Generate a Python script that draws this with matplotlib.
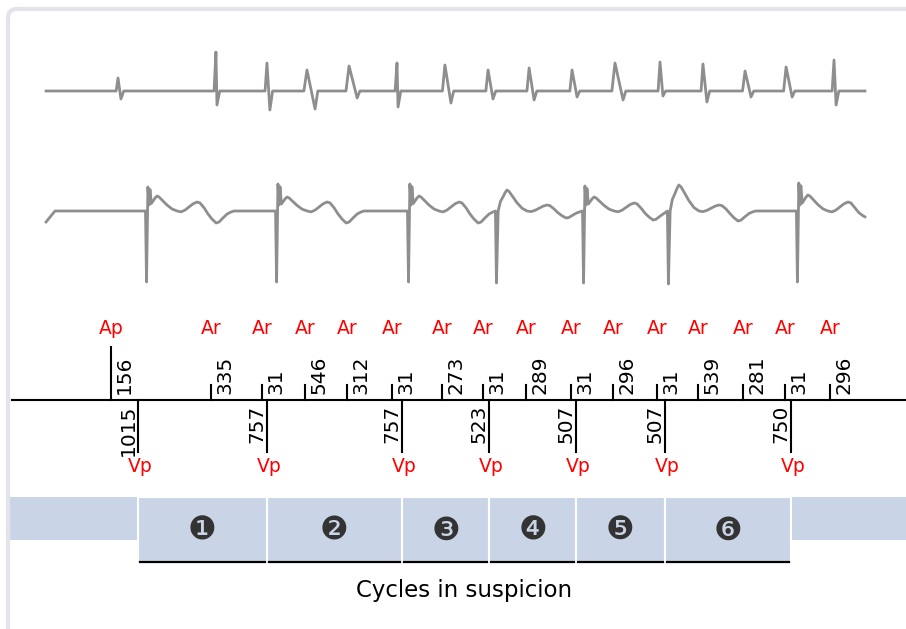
import numpy as np
import matplotlib.pyplot as plt
from matplotlib.patches import Rectangle, FancyBboxPatch
from matplotlib.transforms import IdentityTransform

# ==============================================================================
# DATA (times in ms from the start of the strip, amplitudes in a.u.)
# ==============================================================================
# marker channel
A_TIMES = [576, 1158, 1455, 1706, 1950, 2212, 2503, 2742, 2992, 3254, 3498, 3755, 3993, 4255, 4500, 4762]
A_LABELS = ["Ap", "Ar", "Ar", "Ar", "Ar", "Ar", "Ar", "Ar", "Ar", "Ar", "Ar", "Ar", "Ar", "Ar", "Ar", "Ar"]
A_INTERVALS = [156, 335, 31, 546, 312, 31, 273, 31, 289, 31, 296, 31, 539, 281, 31, 296]

V_TIMES = [733, 1484, 2270, 2777, 3283, 3801, 4535]
V_LABELS = ["Vp", "Vp", "Vp", "Vp", "Vp", "Vp", "Vp"]
V_INTERVALS = [1015, 757, 757, 523, 507, 507, 750]

CYCLE_NAMES = ["\u2776", "\u2777", "\u2778", "\u2779", "\u277a", "\u277b"]

# atrial EGM (top strip)
A_EGM_T = [617, 1187, 1484, 1717, 1962, 2241, 2520, 2771, 3010, 3260, 3510, 3772, 4022, 4267, 4506, 4785]
A_EGM_PEAK = [13, 39, 28, 21, 25, 28, 26, 21, 23, 21, 28, 29, 27, 20, 24, 31]
A_EGM_TROUGH = [-8, -14, -19, -18, -7, -16, -12, -8, -9, -6, -9, -5, -11, -6, -6, -14]
A_EGM_WIDTH = [17, 6, 17, 47, 47, 6, 35, 29, 29, 29, 47, 17, 23, 35, 35, 12]

# ventricular EGM (second strip)
V_EGM_T = [786, 1543, 2311, 2823, 3330, 3824, 4575]
V_EGM_DEPTH = [-71, -71, -71, -72, -72, -73, -71]
V_EGM_SPIKE = [24, 27, 27, 0, 25, 0, 28]
V_EGM_PEAK = [15, 14, 15, 21, 14, 26, 16]
V_EGM_HUMP = [9, 9, 9, 6, 8, 6, 9]
V_EGM_TROUGH = [-12, -12, -12, -7, -9, -10, -7]

EGM_START, EGM_END = 198, 4965

# T-wave shape: offsets (ms) and weights of first peak / hump / trough
T_OFF = [35, 47, 58, 70, 93, 116, 146, 175, 198, 221, 244, 268, 291, 308, 332, 355, 378, 402, 419, 442, 466, 489, 506]
T_F1 = [0.67, 0.87, 1.0, 0.93, 0.67, 0.4, 0.13, 0, 0, 0, 0, 0, 0, 0, 0, 0, 0, 0, 0, 0, 0, 0, 0]
T_F2 = [0, 0, 0, 0, 0, 0, 0, 0, -0.1, 0.1, 0.45, 0.8, 1.0, 0.9, 0.35, 0, 0, 0, 0, 0, 0, 0, 0]
T_F3 = [0, 0, 0, 0, 0, 0, 0, 0, 0, 0, 0, 0, 0, 0, 0, 0.25, 0.67, 1.0, 0.92, 0.58, 0.25, 0.08, 0]

XLIM = (-70, 5204)
W, H = 906, 629
EGM_COLOR = '#8e8e8e'
BAND_COLOR = '#c9d5e6'


def atrial_trace():
    ts, ys = [EGM_START], [0]
    for t, p, q, w in zip(A_EGM_T, A_EGM_PEAK, A_EGM_TROUGH, A_EGM_WIDTH):
        rise = max(7, 0.3 * w)
        ts += [t - rise - 4, t, t + w, t + w + 16]
        ys += [0, p, q, 0]
    ts.append(EGM_END)
    ys.append(0)
    return ts, ys


def ventricular_trace():
    ts, ys = [EGM_START, 250], [-11, 0]
    n = len(V_EGM_T)
    for i in range(n):
        t, d, s, p = V_EGM_T[i], V_EGM_DEPTH[i], V_EGM_SPIKE[i], V_EGM_PEAK[i]
        h, q = V_EGM_HUMP[i], V_EGM_TROUGH[i]
        if s > 0:
            off = [-9, -3, 5, 12, 17, 25]
            val = [0, d, s, 6, 0.9 * s, 0.5 * p]
        else:
            off = [-9, -3, 7, 20]
            val = [0, d, 0, 0.45 * p]
        for o, f1, f2, f3 in zip(T_OFF, T_F1, T_F2, T_F3):
            off.append(o)
            val.append(p * f1 + h * f2 + q * f3)
        bt = np.array(off) + t
        bv = np.array(val, dtype=float)
        limit = V_EGM_T[i + 1] - 9 if i + 1 < n else EGM_END
        keep = bt < limit
        ts += list(bt[keep])
        ys += list(bv[keep])
        if i + 1 == n:
            ts.append(EGM_END)
            ys.append(np.interp(EGM_END, bt, bv))
    return ts, ys


def add_axes(fig, top_px, bottom_px):
    ax = fig.add_axes([0, 1 - bottom_px / H, 1, (bottom_px - top_px) / H])
    ax.set_xlim(*XLIM)
    ax.axis('off')
    return ax


fig = plt.figure(figsize=(W / 100, H / 100), dpi=100)

# card frame (runs off the right and bottom edges)
frame = FancyBboxPatch((8, -20), 960, H - 9 + 20, boxstyle="round,pad=0,rounding_size=9",
                       transform=IdentityTransform(), facecolor='none',
                       edgecolor='#e3e4e9', linewidth=3)
fig.patches.append(frame)

# --- EGM strips ---
ax_a = add_axes(fig, 30, 130)
ax_a.set_ylim(-39, 61)
t, y = atrial_trace()
ax_a.plot(t, y, color=EGM_COLOR, lw=2.0, solid_joinstyle='round')

ax_v = add_axes(fig, 170, 295)
ax_v.set_ylim(-84, 41)
t, y = ventricular_trace()
ax_v.plot(t, y, color=EGM_COLOR, lw=2.0, solid_joinstyle='round')

# --- marker channel ---
ax_m = add_axes(fig, 310, 480)
ax_m.set_ylim(-80, 90)
ax_m.plot([0, XLIM[1]], [0, 0], color='black', lw=1.5)
for ta, lab, iv in zip(A_TIMES, A_LABELS, A_INTERVALS):
    hgt = 53 if lab == "Ap" else 15
    ax_m.plot([ta, ta], [0, hgt], color='black', lw=1.5)
    ax_m.text(ta, 72, lab, color='red', fontsize=13.5, ha='center', va='center')
    ax_m.text(ta + 25, 6, str(iv), fontsize=14.5, rotation=90, ha='left', va='bottom')
for tv, lab, iv in zip(V_TIMES, V_LABELS, V_INTERVALS):
    ax_m.plot([tv, tv], [-52, 0], color='black', lw=1.5)
    ax_m.text(tv + 12, -66, lab, color='red', fontsize=13.5, ha='center', va='center')
    ax_m.text(tv - 2, -5, str(iv), fontsize=14.5, rotation=90, ha='right', va='top')

# --- cycles ---
ax_c = add_axes(fig, 485, 615)
ax_c.set_ylim(-53, 77)
ax_c.add_patch(Rectangle((-12, 22), V_TIMES[0] + 12, 43, facecolor=BAND_COLOR, edgecolor='none'))
ax_c.add_patch(Rectangle((V_TIMES[-1], 22), XLIM[1] - V_TIMES[-1], 43,
                         facecolor=BAND_COLOR, edgecolor='none'))
for i, name in enumerate(CYCLE_NAMES):
    x0, x1 = V_TIMES[i], V_TIMES[i + 1]
    ax_c.add_patch(Rectangle((x0, 0), x1 - x0, 65, facecolor=BAND_COLOR,
                             edgecolor='white', lw=1.5))
    ax_c.plot([x0 + 10, x1 - 10], [0, 0], color='black', lw=1.6)
    ax_c.text((x0 + x1) / 2, 31, name, fontsize=23, color='#333333', ha='center', va='center')
ax_c.text((V_TIMES[0] + V_TIMES[-1]) / 2, -28, "Cycles in suspicion", fontsize=16.5,
          ha='center', va='center')

fig.savefig('out.png', dpi=100)
